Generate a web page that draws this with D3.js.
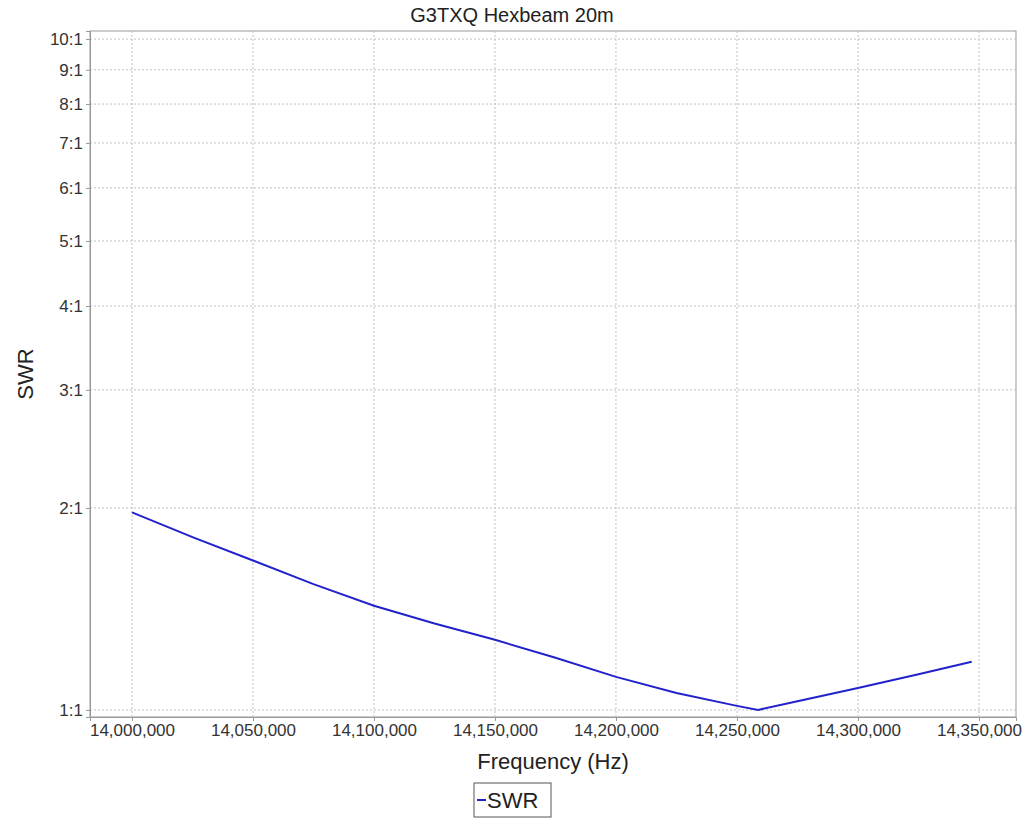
<!DOCTYPE html><html><head><script src="https://cdn.jsdelivr.net/npm/d3@7"></script>
<style>body{margin:0;background:#fff}text{font-family:"Liberation Sans",Arial,sans-serif}</style></head><body>
<svg id="c" width="1024" height="819"></svg>
<script>
const freqs=[14000000,14025000,14050000,14075000,14100000,14125000,14150000,14175000,14200000,14225000,14250000,14258700,14275000,14300000,14325000,14347000];
const swr=[1.97,1.81,1.67,1.54,1.43,1.345,1.272,1.196,1.12,1.06,1.014,1.0,1.03,1.078,1.13,1.18];
const xTicks=[14000000,14050000,14100000,14150000,14200000,14250000,14300000,14350000];
const yTicks=[1,2,3,4,5,6,7,8,9,10];
const svg=d3.select("#c");
const L=90,R=1016,T=31,B=717;
const x=d3.scaleLinear().domain([13982650,14365300]).range([L,R]);
const y=d3.scaleLog().domain([0.976,10.28]).range([B,T]);
svg.append("rect").attr("x",L).attr("y",T).attr("width",R-L).attr("height",B-T).attr("fill","#fff").attr("stroke","#999");
const g=svg.append("g");
xTicks.forEach(t=>g.append("line").attr("x1",x(t)).attr("x2",x(t)).attr("y1",T).attr("y2",B).attr("stroke","#c0c0c0").attr("stroke-dasharray","2,2"));
yTicks.forEach(t=>g.append("line").attr("x1",L).attr("x2",R).attr("y1",y(t)).attr("y2",y(t)).attr("stroke","#c0c0c0").attr("stroke-dasharray","2,2"));
const fmt=d3.format(",");
const xa=svg.append("g").attr("transform",`translate(0,${B})`).call(d3.axisBottom(x).tickValues(xTicks).tickFormat(fmt).tickSize(4));
xa.select(".domain").attr("stroke","#999");xa.selectAll("line").attr("stroke","#999");
xa.selectAll("text").attr("font-size",17).attr("fill","#333").attr("font-family","Liberation Sans");
const ya=svg.append("g").attr("transform",`translate(${L},0)`).call(d3.axisLeft(y).tickValues(yTicks).tickFormat(d=>d+":1").tickSize(4));
ya.select(".domain").attr("stroke","#999");ya.selectAll("line").attr("stroke","#999");
ya.selectAll("text").attr("font-size",17).attr("fill","#333").attr("font-family","Liberation Sans");
svg.append("path").datum(freqs.map((f,i)=>[f,swr[i]])).attr("fill","none").attr("stroke","#2222cc").attr("stroke-width",2)
 .attr("d",d3.line().x(d=>x(d[0])).y(d=>y(d[1])));
svg.append("text").attr("x",512).attr("y",22).attr("text-anchor","middle").attr("font-size",20).attr("fill","#222").text("G3TXQ Hexbeam 20m");
svg.append("text").attr("x",553).attr("y",769).attr("text-anchor","middle").attr("font-size",22).attr("fill","#222").text("Frequency (Hz)");
svg.append("text").attr("transform","translate(33,374) rotate(-90)").attr("text-anchor","middle").attr("font-size",22).attr("fill","#222").text("SWR");
svg.append("rect").attr("x",474).attr("y",783).attr("width",77).attr("height",34).attr("fill","#fff").attr("stroke","#555");
svg.append("line").attr("x1",477).attr("x2",486).attr("y1",800).attr("y2",800).attr("stroke","#2222cc").attr("stroke-width",2);
svg.append("text").attr("x",487).attr("y",808).attr("font-size",22).attr("fill","#222").text("SWR");
</script></body></html>
